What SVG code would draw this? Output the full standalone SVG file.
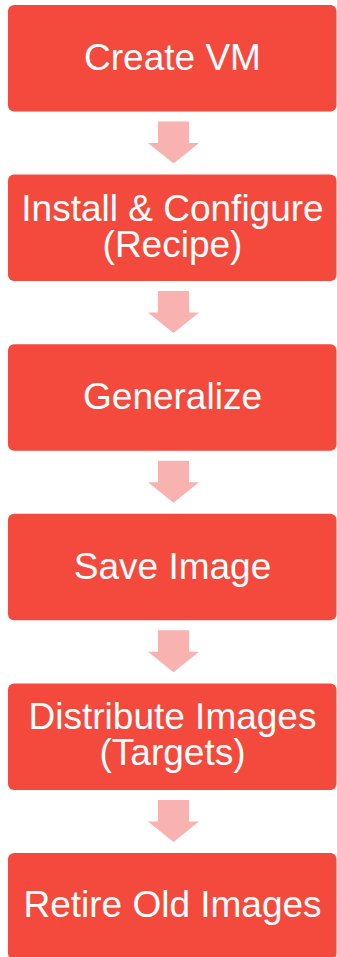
<svg xmlns="http://www.w3.org/2000/svg" width="337" height="957" viewBox="0 0 337 957">
<style>
.box{fill:#F44A3E}
.arr{fill:#F8B2AF}
.lbl{fill:#FFFFFF;font-family:"Liberation Sans",Arial,sans-serif;font-size:37px;text-anchor:middle}
</style>
<rect width="337" height="957" fill="#FFFFFF"/>
<g id="connectors">
<path class="arr" d="M158,121.5 H189 V143 H199 L173.5,163.5 L148,143 H158 Z"/>
<path class="arr" d="M158,291.1 H189 V312.6 H199 L173.5,333.1 L148,312.6 H158 Z"/>
<path class="arr" d="M158,460.7 H189 V482.2 H199 L173.5,502.7 L148,482.2 H158 Z"/>
<path class="arr" d="M158,630.3 H189 V651.8 H199 L173.5,672.3 L148,651.8 H158 Z"/>
<path class="arr" d="M158,799.9 H189 V821.4 H199 L173.5,841.9 L148,821.4 H158 Z"/>
</g>
<g id="create-vm">
<rect class="box" x="8" y="5" width="328.5" height="106.5" rx="6"/>
<text class="lbl" x="172.5" y="70">Create VM</text>
</g>
<g id="install-configure">
<rect class="box" x="8" y="174.6" width="328.5" height="106.5" rx="6"/>
<text class="lbl" x="172.5" y="220.5">Install &amp; Configure</text>
<text class="lbl" x="172.5" y="256.5">(Recipe)</text>
</g>
<g id="generalize">
<rect class="box" x="8" y="344.2" width="328.5" height="106.5" rx="6"/>
<text class="lbl" x="172.5" y="409.3">Generalize</text>
</g>
<g id="save-image">
<rect class="box" x="8" y="513.8" width="328.5" height="106.5" rx="6"/>
<text class="lbl" x="172.5" y="578.6">Save Image</text>
</g>
<g id="distribute-images">
<rect class="box" x="8" y="683.4" width="328.5" height="106.5" rx="6"/>
<text class="lbl" x="172.5" y="728.6">Distribute Images</text>
<text class="lbl" x="172.5" y="764.8">(Targets)</text>
</g>
<g id="retire-old-images">
<rect class="box" x="8" y="853" width="328.5" height="106.5" rx="6"/>
<text class="lbl" x="172.5" y="917">Retire Old Images</text>
</g>
</svg>
